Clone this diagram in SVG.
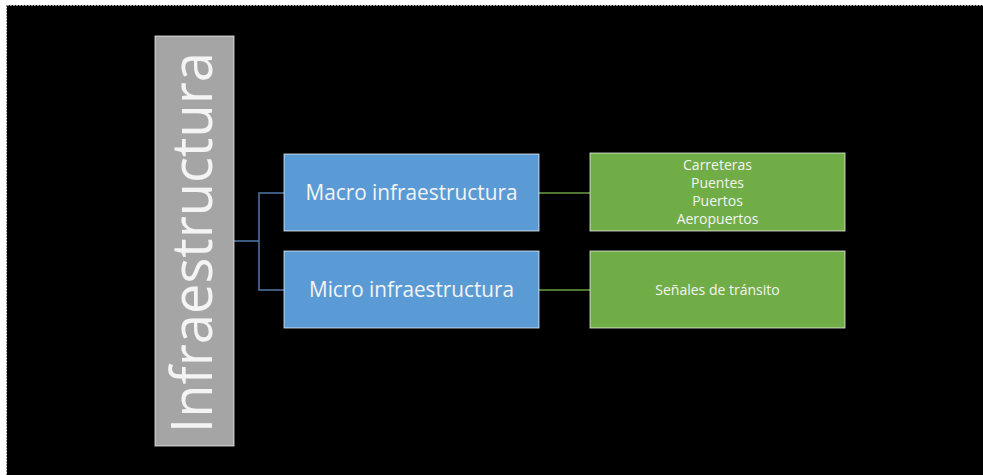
<svg xmlns="http://www.w3.org/2000/svg" width="983" height="475" viewBox="0 0 983 475">
  <style>
    .box { stroke: #ffffff; stroke-opacity: 0.7; stroke-width: 1; }
    .blue { fill: #5b9bd5; }
    .green { fill: #70ad47; }
    .gray { fill: #a5a5a5; }
    .t { font-family: "Open Sans", "Noto Sans", "DejaVu Sans", sans-serif; fill: #f4f4f4; text-anchor: middle; }
    .bl { fill: none; stroke: #4f78a8; stroke-width: 1.5; }
    .gl { fill: none; stroke: #6a9f45; stroke-width: 1.5; }
  </style>
  <rect x="0" y="0" width="983" height="475" fill="#ffffff"/>
  <rect x="7" y="5" width="976" height="470" fill="#000000"/>
  <line x1="7" y1="5.5" x2="983" y2="5.5" stroke="#9a9a9a" stroke-width="1" stroke-dasharray="2,1"/>
  <line x1="6.5" y1="5" x2="6.5" y2="475" stroke="#9a9a9a" stroke-width="1" stroke-dasharray="2,1"/>

  <g id="connectors">
    <polyline class="bl" points="234,241 259,241"/>
    <polyline class="bl" points="284,193 259,193 259,290 284,290"/>
    <line class="gl" x1="539" y1="193" x2="590" y2="193"/>
    <line class="gl" x1="539" y1="290" x2="590" y2="290"/>
  </g>

  <g id="infraestructura">
    <rect class="box gray" x="155" y="36" width="79" height="410"/>
    <text class="t" transform="translate(212,242.5) rotate(-90)" font-size="56" textLength="381" lengthAdjust="spacingAndGlyphs">Infraestructura</text>
  </g>

  <g id="macro">
    <rect class="box blue" x="284" y="154" width="255" height="77"/>
    <text class="t" x="411.5" y="200" font-size="21" textLength="212" lengthAdjust="spacingAndGlyphs">Macro infraestructura</text>
  </g>

  <g id="micro">
    <rect class="box blue" x="284" y="251" width="255" height="77"/>
    <text class="t" x="411.5" y="297" font-size="21" textLength="205" lengthAdjust="spacingAndGlyphs">Micro infraestructura</text>
  </g>

  <g id="macro-items">
    <rect class="box green" x="590" y="153" width="255" height="78"/>
    <text class="t" x="717.5" y="170" font-size="14">Carreteras</text>
    <text class="t" x="717.5" y="188" font-size="14">Puentes</text>
    <text class="t" x="717.5" y="206" font-size="14">Puertos</text>
    <text class="t" x="717.5" y="224" font-size="14">Aeropuertos</text>
  </g>

  <g id="micro-items">
    <rect class="box green" x="590" y="251" width="255" height="77"/>
    <text class="t" x="717.5" y="295" font-size="14">Señales de tránsito</text>
  </g>
</svg>
